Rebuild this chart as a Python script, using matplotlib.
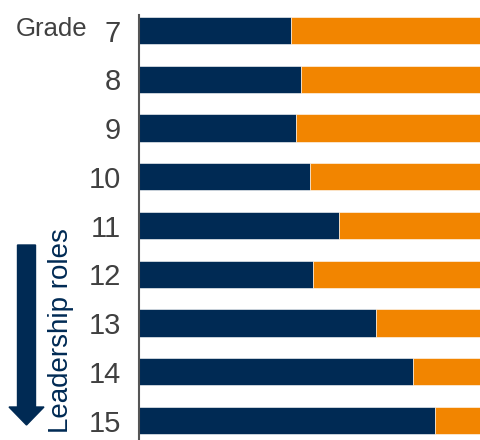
import matplotlib.pyplot as plt
from matplotlib.patches import FancyArrow

grades = ['7', '8', '9', '10', '11', '12', '13', '14', '15']
navy_share = [44.4, 47.4, 45.9, 50.0, 58.5, 50.9, 69.3, 80.1, 86.5]
orange_share = [100 - v for v in navy_share]

NAVY = '#002a54'
ORANGE = '#f28500'
TEXT = '#404040'

plt.rcParams['font.family'] = ['Liberation Sans', 'DejaVu Sans']

fig = plt.figure(figsize=(4.81, 4.4), dpi=100)
ax = fig.add_axes([139 / 481, 0.0, 1 - 139 / 481, 1 - 15 / 440])

ypos = list(range(len(grades)))
ax.barh(ypos, navy_share, height=0.555, color=NAVY, edgecolor='white', linewidth=0.4)
ax.barh(ypos, orange_share, left=navy_share, height=0.555, color=ORANGE,
        edgecolor='white', linewidth=0.4)

ax.set_xlim(0, 100)
ax.set_ylim(8.4, -0.318)
ax.set_yticks(ypos)
ax.set_yticklabels(grades, fontsize=21, color=TEXT)
ax.tick_params(axis='y', length=0, pad=13)
ax.set_xticks([])
for side in ['top', 'right', 'bottom']:
    ax.spines[side].set_visible(False)
ax.spines['left'].set_color('#555555')
ax.spines['left'].set_linewidth(1.5)

fig.text(16 / 481, 1 - 29 / 440, 'Grade', fontsize=18.5, color=TEXT,
         ha='left', va='center')

fig.text(61 / 481, 1 - 331 / 440, 'Leadership roles', fontsize=20,
         color=NAVY, rotation=90, ha='center', va='center')

# arrow pointing down towards the senior grades
arrow = FancyArrow(26.5 / 481, 1 - 245 / 440, 0, -(180 / 440),
                   width=18 / 481, head_width=35 / 481, head_length=18 / 440,
                   length_includes_head=True, color=NAVY,
                   transform=fig.transFigure)
fig.patches.append(arrow)

fig.savefig('out.png', dpi=100)
